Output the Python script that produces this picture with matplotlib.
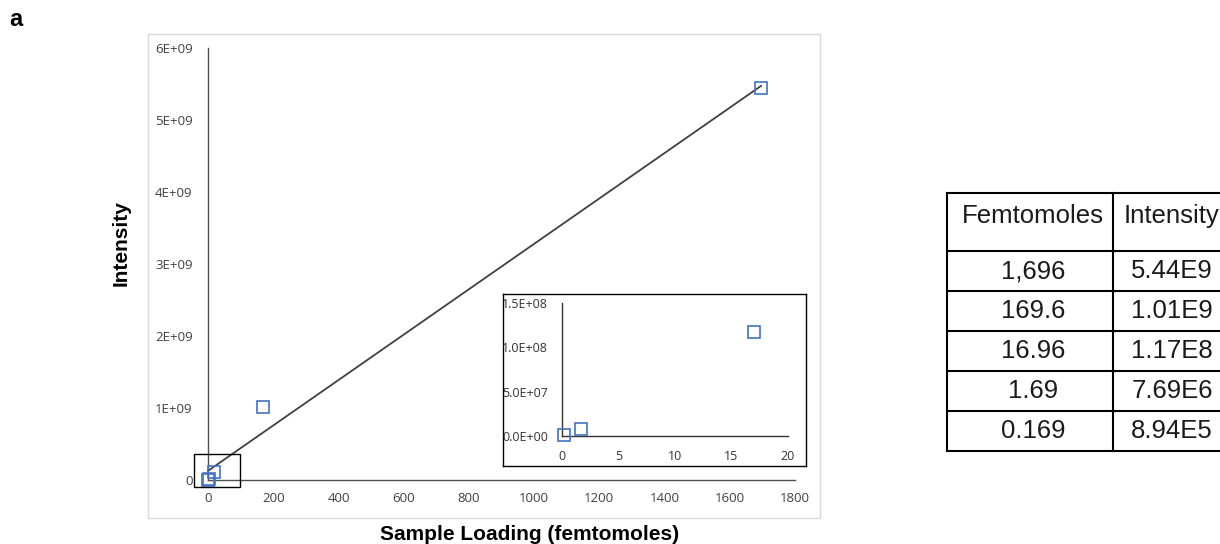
import numpy as np
import matplotlib
matplotlib.use("Agg")
import matplotlib.pyplot as plt
from matplotlib.patches import Rectangle

# data (femtomoles vs intensity)
femtomoles = [1696, 169.6, 16.96, 1.69, 0.169]
intensity = [5.44e9, 1.01e9, 1.17e8, 7.69e6, 8.94e5]
fmol_text = ["1,696", "169.6", "16.96", "1.69", "0.169"]
int_text = ["5.44E9", "1.01E9", "1.17E8", "7.69E6", "8.94E5"]
table_header = ["Femtomoles", "Intensity"]

x_ticks = [0, 200, 400, 600, 800, 1000, 1200, 1400, 1600, 1800]
y_ticks = [0, 1e9, 2e9, 3e9, 4e9, 5e9, 6e9]
y_labels = ["0", "1E+09", "2E+09", "3E+09", "4E+09", "5E+09", "6E+09"]
ins_x_ticks = [0, 5, 10, 15, 20]
ins_y_ticks = [0, 5e7, 1e8, 1.5e8]
ins_y_labels = ["0.0E+00", "5.0E+07", "1.0E+08", "1.5E+08"]

W, H = 1220, 544
fig = plt.figure(figsize=(W / 100, H / 100), dpi=100)


def box(l, t, r, b):
    return [l / W, 1 - b / H, (r - l) / W, (b - t) / H]


tick_font = "Open Sans"
blue = "#4472C4"

# grey panel border
fig.patches.append(Rectangle((148 / W, 1 - 518 / H), 672 / W, 484 / H,
                             transform=fig.transFigure, fill=False,
                             ec="#d9d9d9", lw=1))

# main plot
ax = fig.add_axes(box(208, 48, 795, 480))
ax.set_xlim(0, 1800)
ax.set_ylim(0, 6e9)
for s in ["top", "right"]:
    ax.spines[s].set_visible(False)
for s in ["left", "bottom"]:
    ax.spines[s].set_color("#505050")
    ax.spines[s].set_linewidth(1.0)
ax.set_xticks(x_ticks)
ax.set_yticks(y_ticks)
ax.set_yticklabels(y_labels)
ax.tick_params(length=0, labelsize=9.5, labelcolor="#404040")
ax.tick_params(axis="y", pad=11)
ax.tick_params(axis="x", pad=9)
for lab in ax.get_xticklabels() + ax.get_yticklabels():
    lab.set_fontfamily(tick_font)

fit = np.polyfit(femtomoles, intensity, 1)
xf = np.array([min(femtomoles), max(femtomoles)])
ax.plot(xf, np.polyval(fit, xf), color="#404040", lw=1.3, clip_on=False, zorder=3)
ax.plot(femtomoles, intensity, "s", mfc="none", mec=blue, ms=8.5, mew=1.2,
        clip_on=False, zorder=4)
# zoom box around the origin
ax.add_patch(Rectangle((-43, -1.0e8), 141, 4.6e8, fill=False, ec="black",
                       lw=1.0, clip_on=False, zorder=5))

fig.text(121 / W, 1 - 243 / H, "Intensity", rotation=90, ha="center",
         va="center", fontsize=15, fontweight="bold", family="Liberation Sans")
fig.text(530 / W, 1 - 534 / H, "Sample Loading (femtomoles)", ha="center",
         va="center", fontsize=15, fontweight="bold", family="Liberation Sans")
fig.text(16 / W, 1 - 20 / H, "a", ha="center", va="center", fontsize=17,
         fontweight="bold", family="Liberation Sans")

# inset
frame = fig.add_axes(box(503, 294, 806, 466))
frame.set_xticks([])
frame.set_yticks([])
for s in frame.spines.values():
    s.set_color("black")
    s.set_linewidth(1.0)

ins = fig.add_axes(box(562, 303, 788, 436))
ins.set_xlim(0, 20)
ins.set_ylim(0, 1.5e8)
ins.patch.set_alpha(0)
for s in ["top", "right"]:
    ins.spines[s].set_visible(False)
for s in ["left", "bottom"]:
    ins.spines[s].set_color("#333333")
    ins.spines[s].set_linewidth(1.0)
ins.set_xticks(ins_x_ticks)
ins.set_yticks(ins_y_ticks)
ins.set_yticklabels(ins_y_labels)
ins.tick_params(length=0, labelsize=9, labelcolor="#333333")
ins.tick_params(axis="y", pad=10)
ins.tick_params(axis="x", pad=10)
for lab in ins.get_xticklabels() + ins.get_yticklabels():
    lab.set_fontfamily(tick_font)
sel = [i for i, v in enumerate(femtomoles) if v <= 20]
ins.plot([femtomoles[i] for i in sel], [intensity[i] for i in sel], "s",
         mfc="none", mec=blue, ms=8.5, mew=1.2, clip_on=False, zorder=4)

# table
tab = fig.add_axes([0, 0, 1, 1])
tab.set_xlim(0, W)
tab.set_ylim(H, 0)
tab.axis("off")
tab.patch.set_alpha(0)
col_edges = [947, 1113, 1231]
top, head_h, row_h = 193, 58, 40
n = len(fmol_text)
bottom = top + head_h + n * row_h
row_lines = [top, top + head_h] + [top + head_h + (i + 1) * row_h for i in range(n)]
for y in row_lines:
    tab.plot([col_edges[0], col_edges[-1]], [y, y], color="black", lw=1.5)
for x in col_edges:
    tab.plot([x, x], [top, bottom], color="black", lw=1.5)
tfont = dict(fontsize=18.5, family="Liberation Sans", color="#1a1a1a",
             ha="center", va="center")
centers = [1033, 1172]
for j, h in enumerate(table_header):
    tab.text(centers[j], top + 23, h, **tfont)
for i in range(n):
    yc = top + head_h + (i + 0.5) * row_h
    tab.text(centers[0], yc, fmol_text[i], **tfont)
    tab.text(centers[1], yc, int_text[i], **tfont)

fig.savefig("out.png", dpi=100)
